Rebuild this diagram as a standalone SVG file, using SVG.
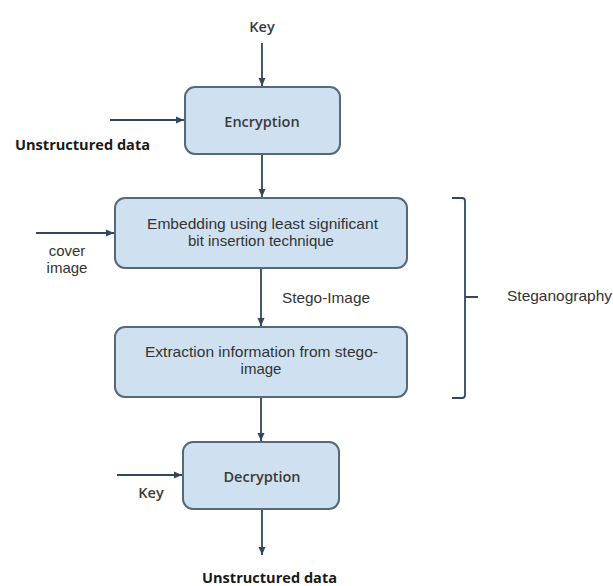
<svg xmlns="http://www.w3.org/2000/svg" width="613" height="586" viewBox="0 0 613 586">
<style>
.box{fill:#cfe0f1;stroke:#56697a;stroke-width:2}
.ln{stroke:#2f4860;stroke-width:1.8;fill:none}
.seg{font-family:"Open Sans","Liberation Sans",sans-serif;font-size:14.5px;font-weight:600;fill:#3a3a3a}
.bold{font-family:"Open Sans","Liberation Sans",sans-serif;font-size:14px;font-weight:700;fill:#1a1a1a}
.ar{font-family:"Liberation Sans",Arial,sans-serif;font-size:15px;fill:#333}
</style>
<defs>
<marker id="ah" markerWidth="8" markerHeight="8" viewBox="0 0 8 8" refX="8" refY="4" orient="auto" markerUnits="userSpaceOnUse">
<path d="M0,0.5 L8,4 L0,7.5 Z" fill="#2f4860"/>
</marker>
</defs>
<rect width="613" height="586" fill="#fff"/>
<g id="connectors">
<line class="ln" x1="262" y1="43" x2="262" y2="86" marker-end="url(#ah)"/>
<line class="ln" x1="110" y1="120" x2="184" y2="120" marker-end="url(#ah)"/>
<line class="ln" x1="262" y1="155" x2="262" y2="197" marker-end="url(#ah)"/>
<line class="ln" x1="36" y1="233" x2="114" y2="233" marker-end="url(#ah)"/>
<line class="ln" x1="261" y1="269" x2="261" y2="326" marker-end="url(#ah)"/>
<line class="ln" x1="261" y1="398" x2="261" y2="441" marker-end="url(#ah)"/>
<line class="ln" x1="117" y1="475" x2="182" y2="475" marker-end="url(#ah)"/>
<line class="ln" x1="262" y1="510" x2="262" y2="555" marker-end="url(#ah)"/>
<path class="ln" stroke="#56697a" d="M452,198 L462,198 Q465,198 465,201 L465,395 Q465,398 462,398 L452,398 M465,297 L478,297"/>
</g>
<g id="key-top"><text class="seg" x="262" y="32" text-anchor="middle">Key</text></g>
<g id="unstructured-in"><text class="bold" x="15" y="150" textLength="135" lengthAdjust="spacingAndGlyphs">Unstructured data</text></g>
<g id="encryption">
<rect class="box" x="185" y="87" width="155" height="67" rx="10"/>
<text class="seg" x="262" y="127" text-anchor="middle">Encryption</text>
</g>
<g id="cover-image">
<text class="ar" x="67" y="256" text-anchor="middle">cover</text>
<text class="ar" x="67" y="273" text-anchor="middle">image</text>
</g>
<g id="embedding">
<rect class="box" x="115" y="198" width="292" height="70" rx="10"/>
<text class="ar" x="147" y="229" textLength="231" lengthAdjust="spacingAndGlyphs">Embedding using least significant</text>
<text class="ar" x="261" y="246" text-anchor="middle">bit insertion technique</text>
</g>
<g id="stego-label"><text class="ar" x="282" y="303" textLength="88" lengthAdjust="spacingAndGlyphs">Stego-Image</text></g>
<g id="extraction">
<rect class="box" x="115" y="327" width="292" height="70" rx="10"/>
<text class="ar" x="145" y="357" textLength="233" lengthAdjust="spacingAndGlyphs">Extraction information from stego-</text>
<text class="ar" x="261" y="374" text-anchor="middle">image</text>
</g>
<g id="steganography"><text class="ar" x="507" y="301" textLength="105" lengthAdjust="spacingAndGlyphs">Steganography</text></g>
<g id="decryption">
<rect class="box" x="183" y="442" width="156" height="67" rx="10"/>
<text class="seg" x="262" y="482" text-anchor="middle">Decryption</text>
</g>
<g id="key-bottom"><text class="seg" x="151" y="498" text-anchor="middle">Key</text></g>
<g id="unstructured-out"><text class="bold" x="202" y="583" textLength="135" lengthAdjust="spacingAndGlyphs">Unstructured data</text></g>
</svg>
